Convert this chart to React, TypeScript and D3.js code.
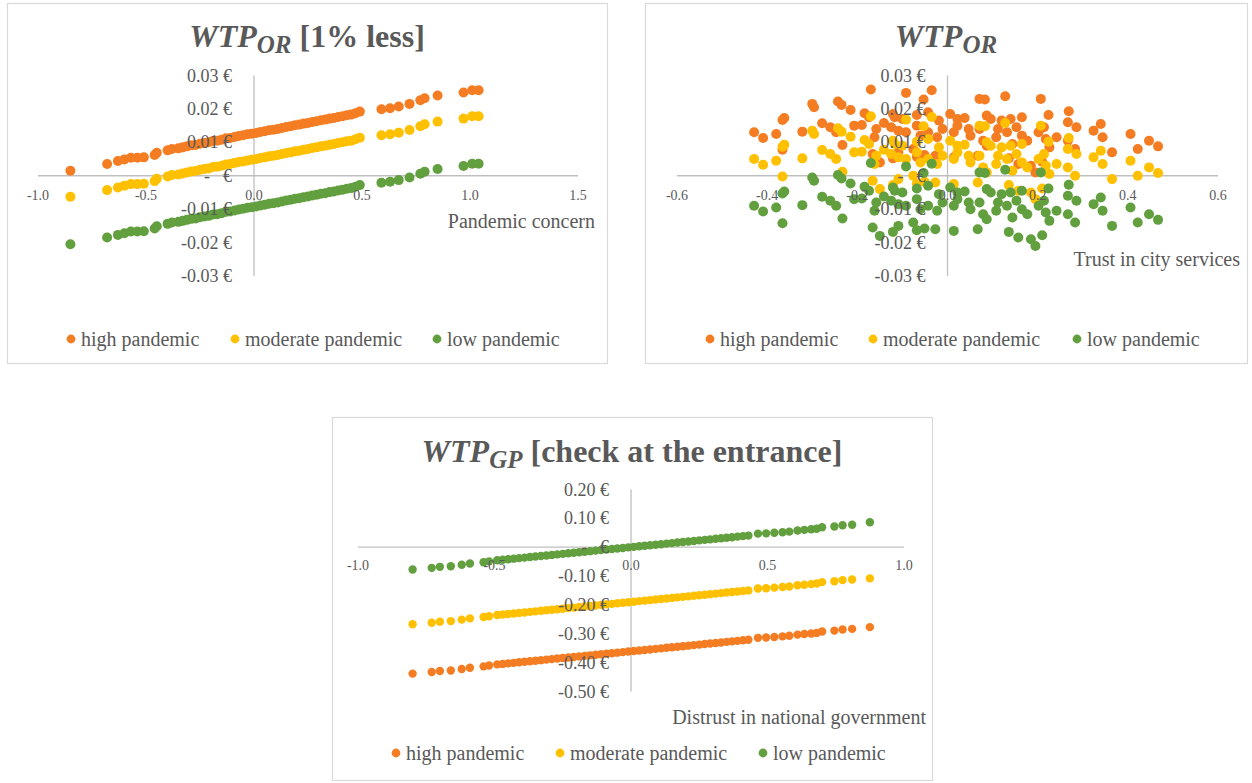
import React from 'react';
import * as d3 from 'd3';

const FONT = "'Times New Roman', 'Liberation Serif', serif";
const TEXT = '#595959';
const AXIS = '#BFBFBF';
const BORDER = '#D9D9D9';

const seriesNames = ['high pandemic', 'moderate pandemic', 'low pandemic'];
const seriesColors = ['#F47D23', '#FFC000', '#629F3F'];

// WTP_OR [1% less] vs pandemic concern
const concern = [
    -0.85, -0.68, -0.63, -0.60, -0.57, -0.54, -0.51,
    -0.46, -0.45, -0.40, -0.38, -0.35, -0.33, -0.31, -0.29, -0.27, -0.25,
    -0.23, -0.21, -0.19, -0.17, -0.15, -0.13, -0.11, -0.09, -0.07, -0.05,
    -0.03, -0.01, 0.01, 0.03, 0.05, 0.07, 0.09, 0.11, 0.13, 0.15,
    0.17, 0.19, 0.21, 0.23, 0.25, 0.27, 0.29, 0.31, 0.33, 0.35,
    0.37, 0.39, 0.41, 0.43, 0.45, 0.47, 0.49,
    0.59, 0.63, 0.67, 0.72, 0.77, 0.79, 0.85, 0.97, 1.01, 1.04,
];
const concernHigh = [
    0.0015, 0.0035, 0.0044, 0.0049, 0.0054, 0.0054, 0.0055,
    0.0062, 0.0069, 0.0076, 0.0080, 0.0082, 0.0085, 0.0088, 0.0091, 0.0092, 0.0096,
    0.0098, 0.0100, 0.0104, 0.0105, 0.0108, 0.0112, 0.0113, 0.0116, 0.0119, 0.0121,
    0.0124, 0.0126, 0.0128, 0.0131, 0.0133, 0.0136, 0.0138, 0.0140, 0.0143, 0.0146,
    0.0148, 0.0151, 0.0153, 0.0156, 0.0158, 0.0161, 0.0163, 0.0166, 0.0168, 0.0171,
    0.0173, 0.0176, 0.0178, 0.0181, 0.0183, 0.0187, 0.0192,
    0.0199, 0.0202, 0.0207, 0.0215, 0.0226, 0.0232, 0.0240, 0.0249, 0.0256, 0.0256,
];
const concernModerate = [
    -0.0063, -0.0043, -0.0035, -0.0030, -0.0025, -0.0025, -0.0024,
    -0.0016, -0.0009, -0.0002, 0.0002, 0.0004, 0.0007, 0.0010, 0.0013, 0.0014, 0.0018,
    0.0020, 0.0022, 0.0026, 0.0027, 0.0030, 0.0034, 0.0035, 0.0038, 0.0041, 0.0043,
    0.0046, 0.0048, 0.0050, 0.0053, 0.0055, 0.0058, 0.0060, 0.0062, 0.0065, 0.0068,
    0.0070, 0.0073, 0.0075, 0.0078, 0.0080, 0.0083, 0.0085, 0.0088, 0.0090, 0.0093,
    0.0095, 0.0098, 0.0100, 0.0103, 0.0105, 0.0109, 0.0114,
    0.0121, 0.0124, 0.0129, 0.0137, 0.0148, 0.0154, 0.0162, 0.0171, 0.0178, 0.0178,
];
const concernLow = [
    -0.0205, -0.0185, -0.0177, -0.0172, -0.0167, -0.0167, -0.0166,
    -0.0158, -0.0151, -0.0144, -0.0140, -0.0138, -0.0135, -0.0132, -0.0129, -0.0128, -0.0124,
    -0.0122, -0.0120, -0.0116, -0.0115, -0.0112, -0.0108, -0.0107, -0.0104, -0.0101, -0.0099,
    -0.0096, -0.0094, -0.0092, -0.0089, -0.0087, -0.0084, -0.0082, -0.0080, -0.0077, -0.0074,
    -0.0072, -0.0069, -0.0067, -0.0064, -0.0062, -0.0059, -0.0057, -0.0054, -0.0052, -0.0049,
    -0.0047, -0.0044, -0.0042, -0.0039, -0.0037, -0.0033, -0.0028,
    -0.0021, -0.0018, -0.0013, -0.0005, 0.0006, 0.0012, 0.0020, 0.0029, 0.0036, 0.0036,
];

// WTP_OR vs trust in city services
const trust = [
    -0.170, -0.092, -0.035, -0.053, 0.071, 0.083, 0.128, 0.207, -0.300, -0.296,
    -0.243, -0.235, -0.215, -0.184, -0.174, -0.362, -0.366, -0.141, -0.121, -0.117,
    -0.100, -0.068, -0.043, -0.019, 0.006, 0.022, 0.038, 0.087, 0.096, 0.120,
    0.140, 0.165, 0.224, 0.269, 0.267, 0.286, 0.340, 0.324, 0.344, 0.365,
    0.406, 0.422, 0.447, 0.467, -0.429, -0.409, -0.380, -0.322, -0.278, -0.260,
    -0.247, -0.233, -0.207, -0.190, -0.162, -0.158, -0.125, -0.109, -0.092, -0.068,
    -0.060, -0.043, -0.023, -0.011, 0.014, 0.022, 0.047, 0.051, 0.071, 0.079,
    0.087, 0.112, 0.108, 0.132, 0.144, 0.153, 0.165, 0.177, 0.202, 0.214,
    0.218, 0.226, 0.242, 0.267, 0.283, -0.366, -0.166, -0.076, -0.027, 0.014,
    0.067, 0.185, -0.109, 0.157, 0.195, -0.150, -0.121, -0.068, -0.051, 0.136,
    0.210,
];
const trustHigh = [
    0.0258, 0.0248, 0.0256, 0.0228, 0.0230, 0.0228, 0.0238, 0.0230, 0.0215, 0.0205,
    0.0222, 0.0212, 0.0197, 0.0187, 0.0175, 0.0173, 0.0167, 0.0158, 0.0185, 0.0175,
    0.0170, 0.0182, 0.0190, 0.0165, 0.0185, 0.0170, 0.0173, 0.0180, 0.0170, 0.0165,
    0.0170, 0.0175, 0.0182, 0.0193, 0.0160, 0.0145, 0.0155, 0.0135, 0.0115, 0.0070,
    0.0125, 0.0080, 0.0105, 0.0088, 0.0130, 0.0113, 0.0125, 0.0132, 0.0157, 0.0145,
    0.0130, 0.0092, 0.0150, 0.0152, 0.0115, 0.0140, 0.0145, 0.0135, 0.0130, 0.0150,
    0.0120, 0.0130, 0.0115, 0.0140, 0.0130, 0.0150, 0.0140, 0.0120, 0.0140, 0.0105,
    0.0090, 0.0140, 0.0115, 0.0130, 0.0095, 0.0145, 0.0120, 0.0105, 0.0130, 0.0145,
    0.0110, 0.0085, 0.0115, 0.0105, 0.0080, 0.0078, 0.0065, 0.0080, 0.0060, 0.0055,
    0.0060, 0.0030, 0.0070, 0.0035, 0.0010, 0.0040, 0.0052, 0.0057, 0.0062, 0.0052,
    0.0042,
];
const trustModerate = [
    0.0178, 0.0168, 0.0176, 0.0148, 0.0150, 0.0148, 0.0158, 0.0150, 0.0135, 0.0125,
    0.0142, 0.0132, 0.0117, 0.0107, 0.0095, 0.0093, 0.0087, 0.0078, 0.0105, 0.0095,
    0.0090, 0.0102, 0.0110, 0.0085, 0.0105, 0.0090, 0.0093, 0.0100, 0.0090, 0.0085,
    0.0090, 0.0095, 0.0102, 0.0113, 0.0080, 0.0065, 0.0075, 0.0055, 0.0035, -0.0010,
    0.0045, 0.0000, 0.0025, 0.0008, 0.0050, 0.0033, 0.0045, 0.0052, 0.0077, 0.0065,
    0.0050, 0.0012, 0.0070, 0.0072, 0.0035, 0.0060, 0.0065, 0.0055, 0.0050, 0.0070,
    0.0040, 0.0050, 0.0035, 0.0060, 0.0050, 0.0070, 0.0060, 0.0040, 0.0060, 0.0025,
    0.0010, 0.0060, 0.0035, 0.0050, 0.0015, 0.0065, 0.0040, 0.0025, 0.0050, 0.0065,
    0.0030, 0.0005, 0.0035, 0.0025, 0.0000, -0.0002, -0.0015, 0.0000, -0.0020, -0.0025,
    -0.0020, -0.0050, -0.0010, -0.0045, -0.0070, -0.0040, -0.0028, -0.0023, -0.0018, -0.0028,
    -0.0038,
];
const trustLow = [
    0.0038, 0.0028, 0.0036, 0.0008, 0.0010, 0.0008, 0.0018, 0.0010, -0.0005, -0.0015,
    0.0002, -0.0008, -0.0023, -0.0033, -0.0045, -0.0047, -0.0053, -0.0062, -0.0035, -0.0045,
    -0.0050, -0.0038, -0.0030, -0.0055, -0.0035, -0.0050, -0.0047, -0.0040, -0.0050, -0.0055,
    -0.0050, -0.0045, -0.0038, -0.0027, -0.0060, -0.0075, -0.0065, -0.0085, -0.0105, -0.0150,
    -0.0095, -0.0140, -0.0115, -0.0132, -0.0090, -0.0107, -0.0095, -0.0088, -0.0063, -0.0075,
    -0.0090, -0.0128, -0.0070, -0.0068, -0.0105, -0.0080, -0.0075, -0.0085, -0.0090, -0.0070,
    -0.0100, -0.0090, -0.0105, -0.0080, -0.0090, -0.0070, -0.0080, -0.0100, -0.0080, -0.0115,
    -0.0130, -0.0080, -0.0105, -0.0090, -0.0125, -0.0075, -0.0100, -0.0115, -0.0090, -0.0075,
    -0.0110, -0.0135, -0.0105, -0.0115, -0.0140, -0.0142, -0.0155, -0.0140, -0.0160, -0.0165,
    -0.0160, -0.0190, -0.0150, -0.0185, -0.0210, -0.0180, -0.0168, -0.0163, -0.0158, -0.0168,
    -0.0178,
];

// WTP_GP [check at the entrance] vs distrust in national government
const distrust = [
    -0.80, -0.73, -0.70, -0.66, -0.62, -0.59, -0.54, -0.52, -0.49,
    -0.47, -0.45, -0.43, -0.41, -0.39, -0.37, -0.35, -0.33, -0.31, -0.29,
    -0.27, -0.25, -0.23, -0.21, -0.19, -0.17, -0.15, -0.13, -0.11, -0.09,
    -0.07, -0.05, -0.03, -0.01, 0.01, 0.03, 0.05, 0.07, 0.09, 0.11,
    0.13, 0.15, 0.17, 0.19, 0.21, 0.23, 0.25, 0.27, 0.29, 0.31,
    0.33, 0.35, 0.37, 0.39, 0.41, 0.43,
    0.465, 0.495, 0.525, 0.555, 0.58, 0.61, 0.635, 0.66, 0.68, 0.70, 0.745, 0.775, 0.81, 0.875,
];
const distrustHigh = [
    -0.438, -0.4325, -0.429, -0.427, -0.422, -0.4175, -0.413, -0.410, -0.406,
    -0.4044, -0.4026, -0.4007, -0.3988, -0.3970, -0.3951, -0.3933, -0.3914, -0.3895, -0.3877,
    -0.3858, -0.3840, -0.3821, -0.3802, -0.3784, -0.3765, -0.3747, -0.3728, -0.3709, -0.3691,
    -0.3672, -0.3654, -0.3635, -0.3616, -0.3598, -0.3579, -0.3560, -0.3542, -0.3523, -0.3505,
    -0.3486, -0.3467, -0.3449, -0.3430, -0.3412, -0.3393, -0.3374, -0.3356, -0.3337, -0.3319,
    -0.3300, -0.3281, -0.3263, -0.3244, -0.3226, -0.3207,
    -0.314, -0.313, -0.311, -0.309, -0.307, -0.303, -0.301, -0.299, -0.297, -0.292, -0.289, -0.285, -0.283, -0.277,
];
const distrustModerate = [
    -0.267, -0.2615, -0.258, -0.256, -0.251, -0.2465, -0.242, -0.239, -0.235,
    -0.2334, -0.2316, -0.2297, -0.2278, -0.2260, -0.2241, -0.2223, -0.2204, -0.2185, -0.2167,
    -0.2148, -0.2130, -0.2111, -0.2092, -0.2074, -0.2055, -0.2037, -0.2018, -0.1999, -0.1981,
    -0.1962, -0.1944, -0.1925, -0.1906, -0.1888, -0.1869, -0.1850, -0.1832, -0.1813, -0.1795,
    -0.1776, -0.1757, -0.1739, -0.1720, -0.1702, -0.1683, -0.1664, -0.1646, -0.1627, -0.1609,
    -0.1590, -0.1571, -0.1553, -0.1534, -0.1516, -0.1497,
    -0.143, -0.142, -0.140, -0.138, -0.136, -0.132, -0.130, -0.128, -0.126, -0.121, -0.118, -0.114, -0.112, -0.108,
];
const distrustLow = [
    -0.077, -0.0715, -0.068, -0.066, -0.061, -0.0565, -0.052, -0.049, -0.045,
    -0.0434, -0.0416, -0.0397, -0.0378, -0.0360, -0.0341, -0.0323, -0.0304, -0.0285, -0.0267,
    -0.0248, -0.0230, -0.0211, -0.0192, -0.0174, -0.0155, -0.0137, -0.0118, -0.0099, -0.0081,
    -0.0062, -0.0044, -0.0025, -0.0006, 0.0012, 0.0031, 0.0050, 0.0068, 0.0087, 0.0105,
    0.0124, 0.0143, 0.0161, 0.0180, 0.0198, 0.0217, 0.0236, 0.0254, 0.0273, 0.0291,
    0.0310, 0.0329, 0.0347, 0.0366, 0.0384, 0.0403,
    0.047, 0.048, 0.050, 0.052, 0.054, 0.058, 0.060, 0.062, 0.064, 0.069, 0.072, 0.076, 0.078, 0.0865,
];

const xTicks1 = [-1.0, -0.5, 0.0, 0.5, 1.0, 1.5];
const yTicks1 = [0.03, 0.02, 0.01, 0, -0.01, -0.02, -0.03];
const xTicks2 = [-0.6, -0.4, -0.2, 0.0, 0.2, 0.4, 0.6];
const yTicks2 = [0.03, 0.02, 0.01, 0, -0.01, -0.02, -0.03];
const xTicks3 = [-1.0, -0.5, 0.0, 0.5, 1.0];
const yTicks3 = [0.2, 0.1, 0, -0.1, -0.2, -0.3, -0.4, -0.5];

const locale = d3.formatLocale({ decimal: '.', thousands: ',', grouping: [3], currency: ['', ''], minus: '-' });
const fmt1 = locale.format('.1f');
const fmt2 = locale.format('.2f');

interface IBox { x: number; y: number; w: number; h: number; }

interface IPanelProps {
    box: IBox;
    xs: number[];
    ys: number[][];
    xTicks: number[];
    yTicks: number[];
    xRange: [number, number];
    yRange: [number, number];
    yFormat: (n: number) => string;
    sub: string;
    rest: string;
    titleY: number;
    axisTitle: string;
    axisTitleX: number;
    axisTitleY: number;
    xLabelDy: number;
    legendY: number;
    legendOffsets: number[];
    r: number;
}

function Panel(props: IPanelProps) {
    const { box } = props;
    const x = d3.scaleLinear()
        .domain(d3.extent(props.xTicks) as [number, number])
        .range(props.xRange);
    const y = d3.scaleLinear()
        .domain(d3.extent(props.yTicks) as [number, number])
        .range(props.yRange);
    const x0 = x(0);
    const y0 = y(0);
    const [xMin, xMax] = x.domain();
    const [yMin, yMax] = y.domain();
    const cx = box.x + box.w / 2;

    return (
        <g fontFamily={FONT}>
            <rect x={box.x + 0.5} y={box.y + 0.5} width={box.w} height={box.h}
                fill="#fff" stroke={BORDER} strokeWidth={1.2} />

            <text x={cx} y={props.titleY} textAnchor="middle" fill={TEXT}
                fontWeight="bold" fontSize={32}>
                <tspan fontStyle="italic">WTP</tspan>
                <tspan fontStyle="italic" fontSize={25} dy={6}>{props.sub}</tspan>
                {props.rest && <tspan dy={-6}>{' ' + props.rest}</tspan>}
            </text>

            <line x1={x(xMin)} x2={x(xMax)} y1={y0} y2={y0} stroke={AXIS} strokeWidth={1.3} />
            <line x1={x0} x2={x0} y1={y(yMax)} y2={y(yMin)} stroke={AXIS} strokeWidth={1.3} />

            {props.ys.map((vals, i) => (
                <g key={i} fill={seriesColors[i]}>
                    {props.xs.map((v, j) => (
                        <circle key={j} cx={x(v)} cy={y(vals[j])} r={props.r} />
                    ))}
                </g>
            ))}

            <g fill={TEXT} fontSize={14} textAnchor="middle">
                {props.xTicks.map(t => (
                    <text key={t} x={x(t)} y={y0 + props.xLabelDy}>{fmt1(t)}</text>
                ))}
            </g>

            <g fill={TEXT} fontSize={18} dominantBaseline="central">
                {props.yTicks.map(t => t === 0 ? (
                    <g key={t}>
                        <text x={x0 - 44} y={y(t)} textAnchor="end">-</text>
                        <text x={x0 - 22} y={y(t)} textAnchor="end">€</text>
                    </g>
                ) : (
                    <text key={t} x={x0 - 22} y={y(t)} textAnchor="end">{props.yFormat(t) + ' €'}</text>
                ))}
            </g>

            <text x={props.axisTitleX} y={props.axisTitleY} textAnchor="end"
                fill={TEXT} fontSize={20}>{props.axisTitle}</text>

            <g fontSize={20} fill={TEXT}>
                {seriesNames.map((name, i) => (
                    <g key={name} transform={`translate(${box.x + props.legendOffsets[i]},${props.legendY})`}>
                        <circle r={4.4} fill={seriesColors[i]} />
                        <text x={10} dominantBaseline="central">{name}</text>
                    </g>
                ))}
            </g>
        </g>
    );
}

export default function App() {
    return (
        <svg width={1252} height={783}
            style={{ position: 'absolute', left: 0, top: 0, display: 'block', background: '#fff' }}>
            <Panel
                box={{ x: 7, y: 3, w: 600, h: 360 }}
                xs={concern}
                ys={[concernHigh, concernModerate, concernLow]}
                xTicks={xTicks1} yTicks={yTicks1}
                xRange={[38, 578]} yRange={[276, 75.5]}
                yFormat={fmt2}
                sub="OR" rest="[1% less]" titleY={47}
                axisTitle="Pandemic concern" axisTitleX={595} axisTitleY={228}
                xLabelDy={24}
                legendY={339} legendOffsets={[64, 228, 430]}
                r={5}
            />
            <Panel
                box={{ x: 645, y: 3, w: 602, h: 360 }}
                xs={trust}
                ys={[trustHigh, trustModerate, trustLow]}
                xTicks={xTicks2} yTicks={yTicks2}
                xRange={[677, 1218]} yRange={[276, 75.5]}
                yFormat={fmt2}
                sub="OR" rest="" titleY={47}
                axisTitle="Trust in city services" axisTitleX={1240} axisTitleY={266}
                xLabelDy={24}
                legendY={339} legendOffsets={[65, 228, 432]}
                r={5}
            />
            <Panel
                box={{ x: 332, y: 417, w: 600, h: 363 }}
                xs={distrust}
                ys={[distrustHigh, distrustModerate, distrustLow]}
                xTicks={xTicks3} yTicks={yTicks3}
                xRange={[358, 904]} yRange={[691.5, 489.5]}
                yFormat={fmt2}
                sub="GP" rest="[check at the entrance]" titleY={462}
                axisTitle="Distrust in national government" axisTitleX={926} axisTitleY={724}
                xLabelDy={23}
                legendY={753} legendOffsets={[64, 228, 431]}
                r={4.2}
            />
        </svg>
    );
}
